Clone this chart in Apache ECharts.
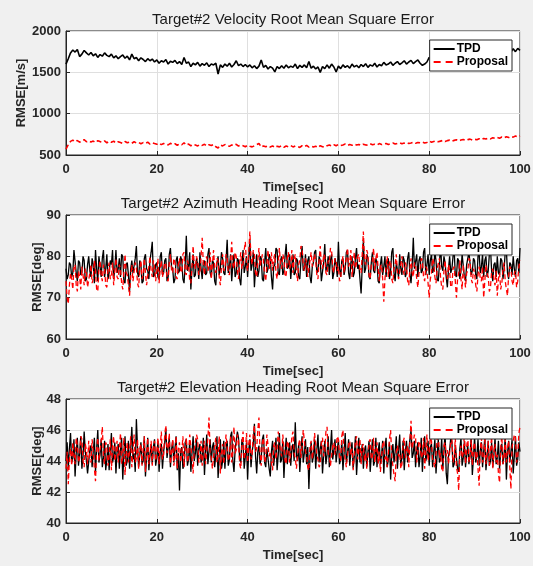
<!DOCTYPE html>
<html>
<head>
<meta charset="utf-8">
<script src="https://cdn.jsdelivr.net/npm/echarts@6/dist/echarts.min.js"></script>
<style>
  html, body { margin: 0; padding: 0; background: #f0f0f0; }
  #chart { width: 533px; height: 566px; }
</style>
</head>
<body>
<div id="chart"></div>
<script>
// Simulation length (seconds); every trace is sampled uniformly over it
const T_END = 100;
const xTicks = [0, 20, 40, 60, 80, 100];

const titles = [
  'Target#2 Velocity Root Mean Square Error',
  'Target#2 Azimuth Heading Root Mean Square Error',
  'Target#2 Elevation Heading Root Mean Square Error'
];
const yNames = ['RMSE[m/s]', 'RMSE[deg]', 'RMSE[deg]'];
const seriesNames = ['TPD', 'Proposal'];

// Velocity RMSE [m/s], 0.5 s steps
const velTPD = [
  1600,1665,1735,1770,1745,1775,1690,1720,1765,1735,
  1710,1740,1700,1725,1680,1715,1695,1735,1705,1690,
  1720,1675,1700,1665,1690,1710,1670,1695,1650,1720,
  1665,1680,1640,1675,1655,1630,1665,1640,1660,1625,
  1650,1610,1640,1625,1655,1600,1635,1620,1645,1605,
  1630,1595,1680,1610,1625,1570,1610,1590,1620,1575,
  1605,1585,1615,1570,1600,1590,1610,1480,1590,1560,
  1600,1575,1610,1565,1595,1640,1580,1600,1570,1595,
  1565,1590,1555,1580,1545,1575,1650,1560,1585,1540,
  1570,1550,1505,1570,1545,1580,1550,1590,1555,1575,
  1560,1600,1545,1585,1560,1590,1555,1630,1550,1575,
  1540,1565,1500,1570,1545,1590,1550,1600,1565,1505,
  1575,1545,1590,1560,1580,1550,1600,1565,1585,1555,
  1595,1570,1605,1560,1590,1575,1610,1565,1595,1580,
  1620,1590,1600,1625,1585,1610,1630,1595,1615,1640,
  1600,1625,1645,1605,1630,1650,1610,1585,1600,1625,
  1680,1665,1690,1670,1685,1665,1695,1675,1700,1680,
  1695,1710,1685,1705,1720,1695,1710,1730,1700,1720,
  1735,1710,1725,1740,1715,1735,1745,1720,1740,1755,
  1730,1750,1760,1735,1755,1770,1745,1785,1750,1790,
  1765
];
const velProp = [
  570,625,665,680,660,675,655,670,685,660,
  672,658,668,650,673,662,655,670,648,666,
  655,668,645,660,652,640,663,648,655,642,
  660,645,652,636,650,641,655,632,648,638,
  630,645,625,640,632,622,641,628,636,618,
  635,624,648,620,632,612,630,622,610,628,
  616,630,608,624,615,628,600,585,622,610,
  626,612,605,622,614,630,608,620,612,600,
  618,605,598,612,625,640,595,610,600,612,
  596,610,590,605,598,612,594,608,600,615,
  598,610,602,592,612,600,616,596,608,598,
  606,590,612,600,596,612,620,608,625,612,
  628,615,622,632,614,626,618,632,620,628,
  615,630,622,618,635,624,630,620,638,626,
  632,640,628,636,645,632,640,648,636,644,
  650,640,646,655,642,652,648,658,645,652,
  670,655,664,672,660,668,676,662,674,680,
  668,677,684,671,681,688,675,686,692,681,
  690,684,697,687,700,693,704,695,709,700,
  712,703,717,707,721,711,725,716,729,721,
  732
];

// Azimuth heading RMSE [deg], 0.25 s steps
const aziTPD = [
  77,74.5,75.5,78.5,78,75,76,81.5,81.5,76,74,79,78.5,75.5,76,80,79,74,74.5,78,
  80,76.5,75,79.5,78,73.5,81.5,77,74,80,77.5,75,79.5,81.5,75,77,80.5,74.5,76,79,
  78,81.5,74.5,77,81.5,76,77,79.5,75,80.5,80,74,73.5,78,78.5,75.5,71.5,77,79,76,
  76,79.5,82.5,76,75,79,78,73.5,74,79.5,80.5,77,76.5,74.5,79,81,83.5,75,75.5,78,
  78.5,75,74.5,80,81,75.5,76,79,79.5,74,75,80.5,82,77.5,77,73.5,74.5,79,80,76,
  76.5,80,79,74.5,73.5,78,85,76.5,77.5,81,72,77,80.5,75,75.5,79.5,78,74.5,81,77,
  74.5,78.5,79,75.5,76,80.5,82,76,75,79,78.5,74,73,78.5,80,75.5,77,81,79.5,76,
  75.5,79,84,76,77.5,80.5,74,78,80.5,75,76,79.5,79,74.5,73,78,81.5,76,77.5,80,
  75,79.5,84,76.5,78,81,72.5,77,80.5,75,76.5,80,79.5,74.5,74,78.5,82,76,77,80.5,
  79.5,75,72,77.5,78,82,81.5,76,75.5,79,80,75.5,76.5,80,83,77,77.5,80.5,74.5,78,
  80.5,75.5,76,79.5,79,75,74.5,79,82.5,76.5,77,80.5,75,79,80,75,73.5,77.5,78.5,81,
  81.5,76,76.5,80,79,74,74,78.5,83,76.5,77.5,80,75.5,79,80.5,74.5,76,79.5,78,75,
  83.5,77,75,79,79.5,75.5,77,81,81.5,76,74.5,78.5,80,75,76,79.5,82,77,78,74.5,
  71,77.5,84,76,77,80.5,79.5,75,74.5,78.5,81,76.5,76,79.5,78.5,74,73.5,78,80,75.5,
  77.5,80,75,78.5,79.5,74.5,76.5,81,82,76,74,78.5,78.5,75,80.5,77,75.5,80,79,75,
  76,79.5,81,75.5,73.5,78,84.5,77,77,80.5,75,79,80,76,76.5,81,82,75.5,78,80.5,
  75.5,79,80.5,76,77,81,79,74.5,74,78,83,77.5,76.5,80,78.5,75,72.5,77,80,76,
  77,80,81.5,75.5,75,79.5,79,74.5,76.5,80.5,80.5,75,74,78,78,81,81,75.5,76.5,79.5,
  79,75.5,74.5,80,81,76,77.5,80.5,75,79,80,75,76.5,80.5,82,76.5,74,78,78.5,75,
  80,76,75.5,79.5,79,74.5,77,81,81.5,76,74.5,78.5,78,75.5,80,77,75,79,79.5,76,
  82
];
const aziProp = [
  74,70,68.5,73,76,74.5,72,77.5,78,73,71.5,76.5,75,72,77.5,75.5,73,77,76,72.5,
  72.5,76,78,73.5,74.5,79,76.5,72,71.5,77,79,75.5,74,78,77,73,72.5,77,78.5,74.5,
  75,78.5,73,76.5,79.5,75,74.5,78,77,73.5,72,76.5,80.5,76,75.5,73,70.5,75,78,74,
  74,78.5,77.5,73.5,72.5,77,79,74.5,75.5,79.5,76,73,73,77.5,80,76.5,75,79,77.5,74,
  76.5,79.5,73.5,77,79,75,75,78.5,78,74.5,74,78.5,80.5,76.5,76,79.5,78.5,75,74.5,78,
  79.5,76.5,76,80.5,81,76,75.5,79,78,74,73.5,77.5,82.5,78,77,80,79,75.5,76,80,
  84.5,78,75.5,79,80,76.5,77.5,81,74.5,78,81.5,77,76,79.5,79,75,73,77.5,80.5,76.5,
  77,80.5,79.5,76,75.5,79,83.5,78,77,81,80,76.5,74.5,78.5,81,77,78,81.5,83.5,78,
  76.5,81,86,79.5,78,81.5,80.5,76,75,79,82,77.5,77.5,80.5,79,75.5,74,78,81.5,77,
  78,81,76.5,79.5,80.5,76,74.5,78.5,82,78,77,80.5,79.5,75,75.5,79.5,81,77,78,81.5,
  76,79.5,80.5,76.5,74,78,79,82.5,82,78,76.5,79.5,78.5,75,75,79,81,77.5,77.5,80.5,
  79,75.5,74.5,79,82.5,78,77,80.5,80,76,75.5,79,78.5,82,81.5,77,76,79.5,79,76.5,
  77.5,74,74.5,78.5,80,76,76,79.5,82,77.5,78.5,81.5,75,78,81,77,77,80,80.5,76.5,
  76,80.5,86,79,78,81.5,80.5,75.5,74.5,78,79,82,76.5,79.5,81,77,74,77.5,78,74.5,
  69,74.5,77.5,80,75,78.5,79,74.5,73.5,77,78,80.5,76,74.5,74.5,78,80,76.5,75.5,78.5,
  77.5,74,73,77,79.5,76,75,78.5,78,74.5,72.5,76,76.5,79.5,79,75,74,77.5,77,73.5,
  70,74.5,76,79.5,78.5,75,73.5,77,77,79.5,75,72.5,72,76.5,79,75,74.5,78,76.5,72.5,
  73,77,77.5,74,70,74.5,76,79,74.5,72,78,75,72.5,76,76.5,79.5,79,74.5,73.5,77,
  76,73,71.5,75.5,77.5,74.5,74,77.5,70,74,78,76,75,71.5,72.5,76.5,77,74.5,73,76.5,
  70.5,74.5,76,72,73.5,77,78.5,74,72,70.5,75.5,77.5,77,74,73,76,76.5,72.5,74,77.5,
  79
];

// Elevation heading RMSE [deg], 0.25 s steps
const eleTPD = [
  44,45.2,43.5,44.8,45.8,43.9,44.2,45.4,43,44.5,45.5,43.7,44.5,45.6,43.5,44.3,45.9,44.6,44,43.2,
  43.2,44.7,45,43.6,44.6,45.5,43.3,44.8,46,43.9,44.4,45.4,43.6,44.2,45.3,43.4,44.1,45.1,43.4,44.6,
  45.8,43.9,44.3,45.2,43.2,44.6,45.1,43.5,44.7,45.5,42.8,44.4,45.6,43.7,44,45.3,43.5,44.8,46.2,44.1,
  44.5,43.3,46.7,44.9,43.6,44.4,45.2,43.8,44,45.6,43,44.3,45.5,43.4,44.4,45.1,43.8,44.9,45.4,43.7,
  44.2,45.3,43.3,44.6,45.1,43.5,44.6,45.2,46.1,44.2,44.3,45.5,43.6,44.7,45.3,43.9,44.8,45.6,43.4,44.5,
  42.1,44.6,44.9,43.5,43.8,45.2,45.4,43.7,44.1,45.3,43.3,44.5,45.6,44,44.5,45.4,43.7,44.8,45.1,43.9,
  44.3,45.5,43.1,44.6,45.7,43.8,44.6,45.4,43.9,44.9,45.2,43.6,44.4,45.6,42.9,44.2,45.4,43.5,44,45.3,
  43.5,44.8,45.3,43.7,44.1,45.6,45.9,44,43.3,44.7,44.8,45.9,45.5,44.1,43.9,45.4,45.1,43.5,44.3,45.2,
  42.8,44.7,45.4,43.6,44.6,45.1,46.4,44.3,43.2,44.6,45,43.8,44.2,45.4,45.7,43.9,43.6,44.8,44.9,43.5,
  43,44.6,45.3,43.7,44.5,45.5,43.4,44.4,45.8,43.9,44.1,45.3,42.9,44.5,45.5,43.8,44.6,45.2,43.7,44.8,
  45.1,44,46.5,44.4,44,45.1,43.3,44.6,45.6,43.9,44.5,45.4,43.8,44.9,42.2,44.3,45.2,43.9,44.3,45.4,
  43.5,44.7,45.7,43.9,44.8,45.3,43.2,44.4,45.3,43.8,44.4,45.6,43.6,44.8,46,44.1,44.7,45.4,43.9,44.6,
  45.4,43.8,44.1,45.3,43.4,44.5,45.8,43.9,44.5,45.4,43.7,44.6,45.2,43.5,44.3,45.6,43.1,44.4,45.5,43.9,
  44.2,45.1,43.5,44.7,45,43.6,44.6,45.3,43.3,44.4,45.4,43.7,44,45.5,43.6,44.6,45.2,43.8,44.4,45.3,
  43.2,44.8,45.5,43.6,44.1,45.2,42.8,44.4,45.1,43.9,44.6,45.6,43.5,44.7,45.7,43.8,44.2,45.3,43.4,44.6,
  45.3,43.9,44,45.4,46,44.2,44.5,45.3,43.6,44.7,45.2,43.6,44.3,45.5,43.3,44.6,45.6,44,44.4,45.3,
  43.7,44.9,45.1,43.6,44.6,45.4,43.2,44.4,45.4,43.9,44.1,45.5,43.5,44.7,45.8,43.2,42.5,44.3,44.7,45.5,
  45.2,43.6,43.8,45,44.9,43.5,43.3,44.8,45.5,43.7,44.2,45.3,43.6,44.4,45,43.8,44.4,45.6,43.1,44.2,
  45.6,43.9,44.3,45.4,43.7,44.6,45.2,43.6,44.6,45.5,43.4,44.3,45.3,43.7,44,45.2,43.6,44.4,45.5,43.8,
  44.2,45.3,43.5,44.6,45.1,43.8,44.4,45.6,42.8,44.5,45.3,43.9,44.6,45.4,43.2,44.3,45.6,43.7,44.1,45.2,
  44.6
];
const eleProp = [
  43.5,44.6,42.5,44.1,44.8,43.7,45.2,44.4,43.8,45.5,45,43.9,44.2,45.6,45.4,44,43.6,45.1,44.7,43.8,
  45.3,44.2,43.9,45.4,44.6,43.5,42.7,44.8,45.5,44,44.1,45.3,46.2,44.3,43.8,45.2,45,43.7,44.3,45.4,
  43.4,44.9,45.6,44,44.5,45.3,43.9,44.7,45.8,43.8,44.4,45.5,43.1,44.5,45.2,43.9,44.7,45.6,43.6,44.6,
  45.7,43.9,44.2,45.4,43.5,44.8,45.1,43.7,44.8,45.6,43.3,44.5,45.5,43.8,44.5,45.3,43.7,44.9,45.3,44,
  44.6,45.5,43.8,44.9,45.9,44.1,44.4,45.7,46.3,44.5,44.9,45.8,43.8,44.6,45.4,43.7,44.2,45.6,43.5,44.8,
  45.2,43.9,44.5,45.6,43.6,44.7,45.5,43.9,44.3,45.7,45.8,44.2,43.2,44.8,44.9,45.7,45.4,43.9,44.1,45.3,
  43.7,44.9,45.3,43.8,44.6,45.5,46.8,44.5,44.2,43.5,43.6,45,45.5,43.9,44.4,45.6,43.2,44.5,45.1,43.8,
  44.8,45.7,45.6,44,44.3,45.6,43.9,44.6,46.2,44.5,44.7,45.7,45.3,43.8,43.5,45.1,45.9,44.1,44.5,45.8,
  43.9,45.1,45.7,44.1,44.4,45.8,46.3,44.6,44.8,46,46.8,44.4,43.7,45.2,45.5,43.9,44.2,45.7,45.8,44.3,
  44.6,43.9,43.4,45,45.2,44.1,44.8,45.9,46,44.6,44.3,45.7,45.6,44,43.8,45.3,45.1,43.9,44.5,45.6,
  45.9,44.5,44.2,43.5,43.6,45.1,45.4,44.2,44.9,46,46.1,44.6,44.4,43.6,43.4,45,45.3,44.1,44.7,45.8,
  45.8,44.4,44.1,43.6,43.8,45.2,45.5,44.3,44.6,45.9,46.2,44.5,44.3,43.7,43.6,45,45.2,44.4,44.9,45.6,
  45.4,44.2,44,45.6,46,44.6,44.5,43.6,43.7,45.1,45.3,44.4,44.8,43.4,43.5,45.3,45.6,44.1,44.2,45.4,
  43.8,44.9,45.1,44,44.5,43.5,43.6,45.2,45.4,44.1,44.3,45.5,43.9,44.6,45.2,43.8,44.6,43.3,43.4,45.1,
  45.3,44.1,44.4,43.6,43.7,45.4,46,44.3,44.2,43.1,42.7,44.6,45,44.3,44.5,43.5,43.8,45.2,45.5,44.2,
  44.3,45,43.6,45.3,46.6,44.8,44.8,45.7,45.5,43.9,43.9,45.3,45.1,44.2,44.4,45.5,43.5,44.6,45.7,44,
  44.6,45.5,45.3,44.1,44,43.6,43.7,45.4,45.8,44.2,44.5,43.5,43.3,45,45.2,44.3,44.7,43.8,43.9,45.2,
  45.4,43.9,44.2,45.5,43.6,43.2,42.1,44.6,45,44.2,44.5,45.8,43.8,44.9,45.6,43.9,44.3,45.4,43.7,44.8,
  45.2,44.1,44.6,43.5,42.4,44.8,45.5,43.9,44.1,45.6,43.8,44.5,45.3,43.7,44.7,45.6,43.5,44.6,45.1,43.9,
  44.4,43.2,42.6,44.9,45.6,43.8,44.2,45.4,43.9,44.8,45.3,43.6,42.2,44.9,44.8,45.7,45.5,43.9,44.3,45.8,
  46.2
];

const yRanges = [
  { min: 500, max: 2000, interval: 500 },
  { min: 60, max: 90, interval: 10 },
  { min: 40, max: 48, interval: 2 }
];
const panels = [
  [velTPD, velProp],
  [aziTPD, aziProp],
  [eleTPD, eleProp]
];

const FONT = '"Liberation Sans", Arial, Helvetica, sans-serif';
const AX = '#262626';
const GRID_LEFT = 66, GRID_RIGHT = 13, GRID_H = 124;
const gridTops = [31, 215, 399];
const yNameGaps = [38, 22, 22];
const lineWidths = [1.6, 1.3, 1.3];

// pair each sample with its time stamp
const toPairs = arr => {
  const step = T_END / (arr.length - 1);
  return arr.map((v, i) => [i * step, v]);
};

const option = {
  animation: false,
  backgroundColor: '#f0f0f0',
  textStyle: { fontFamily: FONT },
  title: titles.map((t, k) => ({
    text: t,
    left: 288,
    textAlign: 'center',
    top: gridTops[k] - 24,
    textStyle: { fontFamily: FONT, fontSize: 15, fontWeight: 'normal', color: '#1a1a1a' }
  })),
  legend: gridTops.map(top => ({
    data: [
      { name: seriesNames[0] },
      { name: seriesNames[1], lineStyle: { type: [7, 5] } }
    ],
    orient: 'vertical',
    right: 21,
    top: top + 9,
    backgroundColor: '#ffffff',
    borderColor: AX,
    borderWidth: 1,
    borderRadius: 0,
    padding: [3, 4, 3, 3],
    itemGap: 1,
    itemWidth: 21,
    itemHeight: 15,
    selectedMode: false,
    itemStyle: { opacity: 0 },
    textStyle: { fontFamily: FONT, fontSize: 12, fontWeight: 'bold', color: '#000', padding: [0, 0, 0, -3] }
  })),
  grid: gridTops.map(top => ({
    left: GRID_LEFT, right: GRID_RIGHT, top: top, height: GRID_H,
    containLabel: false, outerBoundsMode: 'none',
    show: true, backgroundColor: '#ffffff', borderColor: AX, borderWidth: 1
  })),
  xAxis: gridTops.map((_, k) => ({
    type: 'value', gridIndex: k, min: 0, max: 100, interval: 20,
    name: 'Time[sec]', nameLocation: 'middle', nameGap: 26,
    nameTextStyle: { fontFamily: FONT, fontSize: 13, fontWeight: 'bold', color: AX },
    axisLine: { lineStyle: { color: AX, width: 1 } },
    axisTick: { inside: true, length: 4, lineStyle: { color: AX } },
    axisLabel: { margin: 8, fontFamily: FONT, fontSize: 13, fontWeight: 'bold', color: AX,
                 customValues: xTicks },
    splitLine: { show: true, lineStyle: { color: '#dfdfdf', width: 1 } }
  })),
  yAxis: yRanges.map((r, k) => ({
    type: 'value', gridIndex: k, min: r.min, max: r.max, interval: r.interval,
    name: yNames[k], nameLocation: 'middle', nameGap: yNameGaps[k],
    nameMoveOverlap: false,
    nameTextStyle: { fontFamily: FONT, fontSize: 13, fontWeight: 'bold', color: AX },
    axisLine: { show: true, lineStyle: { color: AX, width: 1 } },
    axisTick: { show: true, inside: true, length: 4, lineStyle: { color: AX } },
    axisLabel: { margin: 5, fontFamily: FONT, fontSize: 13, fontWeight: 'bold', color: AX,
                 formatter: v => String(v) },
    splitLine: { show: true, lineStyle: { color: '#dfdfdf', width: 1 } }
  })),
  series: []
};

panels.forEach((pair, k) => {
  option.series.push({
    name: seriesNames[0], type: 'line', xAxisIndex: k, yAxisIndex: k,
    data: toPairs(pair[0]), symbol: 'none', showSymbol: false,
    lineStyle: { color: '#000000', width: lineWidths[k] }, itemStyle: { color: '#000000' },
    z: 2
  });
  option.series.push({
    name: seriesNames[1], type: 'line', xAxisIndex: k, yAxisIndex: k,
    data: toPairs(pair[1]), symbol: 'none', showSymbol: false,
    lineStyle: { color: '#ff0000', width: lineWidths[k], type: [5, 3] }, itemStyle: { color: '#ff0000' },
    z: 3
  });
});

const chart = echarts.init(document.getElementById('chart'), null, { renderer: 'canvas' });
chart.setOption(option);
</script>
</body>
</html>
